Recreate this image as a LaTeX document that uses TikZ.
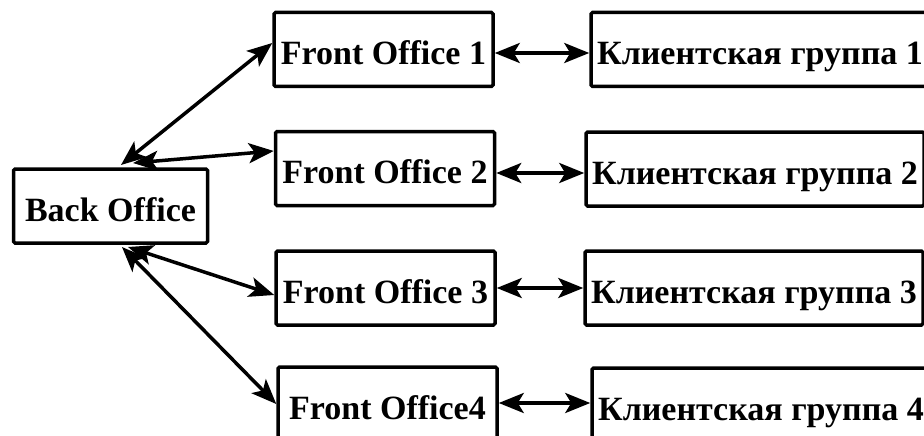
\documentclass[tikz,border=0pt]{standalone}
\usepackage{fontspec}
\setmainfont{Liberation Serif}
\usetikzlibrary{arrows.meta}
\tikzset{
  box/.style={draw, line width=3.5pt, rounded corners=1.5pt, inner sep=0pt,
    font=\fontsize{34}{40}\selectfont\bfseries, text height=30pt, text depth=0pt,
    minimum height=74pt},
  fobox/.style={box, minimum width=219pt},
  kbox/.style={box, minimum width=338pt},
  bobox/.style={box, minimum width=194pt, minimum height=74pt},
  biarrow/.style={line width=3.5pt, {Stealth[length=25pt,width=20pt,inset=6pt]}-{Stealth[length=25pt,width=20pt,inset=6pt]}}
}
\begin{document}
\begin{tikzpicture}[x=1pt,y=-1pt]
\useasboundingbox (0,0) rectangle (924,436);
\fill[white] (0,0) rectangle (924,436);
\clip (0,0) rectangle (924,436);

\node[bobox] (bo) at (110.5,206) {Back Office};

\node[fobox] (fo1) at (383.5,49.5) {Front Office 1};
\node[fobox] (fo2) at (385,168.5) {Front Office 2};
\node[fobox] (fo3) at (385.5,288) {Front Office 3};
\node[fobox] (fo4) at (387.5,404) {Front Office4};

\node[kbox] (k1) at (760,49.5) {Клиентская группа 1};
\node[kbox] (k2) at (755,169) {Клиентская группа 2};
\node[kbox] (k3) at (754,288) {Клиентская группа 3};
\node[kbox] (k4) at (761,405) {Клиентская группа 4};

\coordinate (b1) at (121,165);
\coordinate (b2) at (133,163);
\coordinate (b3) at (128,247);
\coordinate (b4) at (122,247);

\draw[biarrow] (b1) -- ([yshift=6.5pt]fo1.west);
\draw[biarrow] (b2) -- ([yshift=17.5pt]fo2.west);
\draw[biarrow] (b3) -- ([yshift=-7pt]fo3.west);
\draw[biarrow] (b4) -- (fo4.west);

\draw[biarrow] ([yshift=-3.5pt]fo1.east) -- ([yshift=-3.5pt]k1.west);
\draw[biarrow] ([yshift=-4.5pt]fo2.east) -- ([yshift=-4pt]k2.west);
\draw[biarrow] (fo3.east) -- (k3.west);
\draw[biarrow] ([yshift=1pt]fo4.east) -- ([yshift=2pt]k4.west);
\end{tikzpicture}
\end{document}
